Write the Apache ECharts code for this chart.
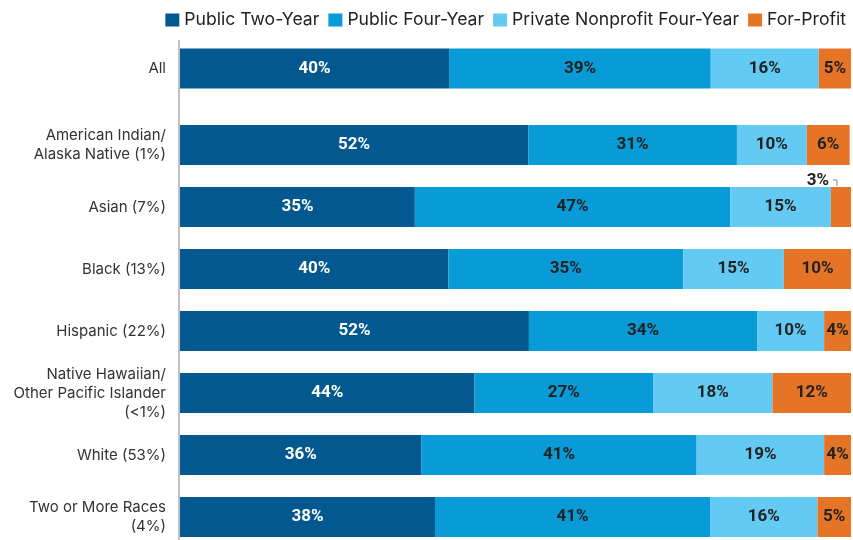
<!DOCTYPE html>
<html>
<head>
<meta charset="utf-8">
<script src="https://cdn.jsdelivr.net/npm/echarts@6/dist/echarts.min.js"></script>
<style>
html,body{margin:0;padding:0;background:#fff;}
#chart{width:853px;height:540px;}
</style>
</head>
<body>
<div id="chart"></div>
<script>
// 数据
var seriesNames = ['Public Two-Year', 'Public Four-Year', 'Private Nonprofit Four-Year', 'For-Profit'];
var colors = ['#03598f', '#089bd7', '#63caf3', '#e57426'];
var labelColors = ['#fff', '#222', '#222', '#222'];

var allCategory = ['All'];
var allValues = [[40.1], [39.0], [16.1], [4.8]];

var groups = [
  'American Indian/\nAlaska Native (1%)',
  'Asian (7%)',
  'Black (13%)',
  'Hispanic (22%)',
  'Native Hawaiian/\nOther Pacific Islander\n(<1%)',
  'White (53%)',
  'Two or More Races\n(4%)'
];
var publicTwoYear  = [51.9, 35, 40, 52, 43.9, 36, 38];
var publicFourYear = [31.1, 47, 35, 34, 26.6, 41, 41];
var privateNonprofit = [10.4, 15, 15, 10, 17.8, 19, 16];
var forProfit = [6.4, 3, 10, 4, 11.7, 4, 5];
var groupValues = [publicTwoYear, publicFourYear, privateNonprofit, forProfit];

(function(){
  var myChart = echarts.init(document.getElementById('chart'));

  var yAxisCommon = {
    type: 'category',
    inverse: true,
    axisLine: { show: false },
    axisTick: { show: false },
    axisLabel: {
      color: '#333',
      fontSize: 15,
      lineHeight: 19,
      fontFamily: 'Inter, Roboto, sans-serif',
      margin: 14
    }
  };

  function makeLabel(i){
    return {
      show: true,
      position: 'inside',
      color: labelColors[i],
      fontSize: 17,
      fontWeight: 'bold',
      fontFamily: 'Roboto, sans-serif',
      formatter: function(p){ return Math.round(p.value) + '%'; }
    };
  }

  var series = [];
  seriesNames.forEach(function(name, i){
    series.push({
      name: name,
      type: 'bar',
      stack: 'all',
      xAxisIndex: 0,
      yAxisIndex: 0,
      barWidth: 40,
      itemStyle: { color: colors[i] },
      label: makeLabel(i),
      data: allValues[i]
    });
    var data = groupValues[i].map(function(v, j){
      // Asian 3% 标签放在柱子上方
      if (i === 3 && j === 1) {
        return {
          value: v,
          label: {
            position: 'top',
            distance: 0,
            offset: [-23, 2]
          }
        };
      }
      return v;
    });
    series.push({
      name: name,
      type: 'bar',
      stack: 'grp',
      xAxisIndex: 1,
      yAxisIndex: 1,
      barWidth: 40,
      clip: false,
      itemStyle: { color: colors[i] },
      label: makeLabel(i),
      data: data
    });
  });

  var option = {
    animation: false,
    color: colors,
    legend: {
      data: seriesNames,
      top: 6,
      right: 2,
      icon: 'rect',
      itemWidth: 14,
      itemHeight: 13,
      itemGap: 9,
      textStyle: {
        color: '#222',
        fontSize: 17.6,
        fontFamily: 'Inter, Roboto, sans-serif'
      }
    },
    grid: [
      { left: 180, right: 2, top: 40, height: 57 },
      // 类目落在网格边上, 间距 62px
      { left: 180, right: 2, top: 145, height: 372 }
    ],
    xAxis: [
      { type: 'value', gridIndex: 0, min: 0, max: 100, show: false },
      { type: 'value', gridIndex: 1, min: 0, max: 100, show: false }
    ],
    yAxis: [
      Object.assign({ gridIndex: 0, data: allCategory }, yAxisCommon),
      Object.assign({ gridIndex: 1, data: groups, boundaryGap: false }, yAxisCommon)
    ],
    graphic: [
      // 纵轴线
      { type: 'line', shape: { x1: 179, y1: 40, x2: 179, y2: 540 }, style: { stroke: '#aaa', lineWidth: 1.5 } },
      // 3% 引线
      { type: 'polyline', shape: { points: [[833, 180], [837, 180], [837, 186]] }, style: { stroke: '#888', lineWidth: 1, fill: null } }
    ],
    series: series
  };
  myChart.setOption(option);
  window.addEventListener('resize', function(){
    myChart.resize();
  });
})();
</script>
</body>
</html>
